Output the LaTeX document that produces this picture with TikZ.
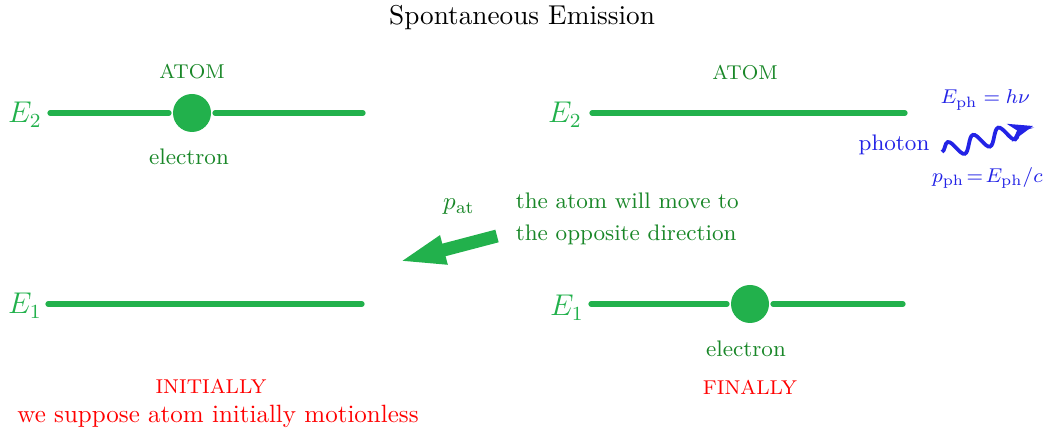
\documentclass[tikz,border=0pt]{standalone}
\usepackage{amsmath,amssymb}
\usepackage{xcolor}
\usetikzlibrary{arrows.meta, positioning, decorations.pathmorphing, calc}
\definecolor{lvlgreen}{RGB}{34,177,76}
\definecolor{txtgreen}{RGB}{25,135,40}
\definecolor{phblue}{RGB}{35,35,230}
\begin{document}
\begin{tikzpicture}[x=0.4pt, y=-0.4pt, >=Stealth, font=\normalsize,
    level/.style={line width=2.1pt, lvlgreen, line cap=round},
    elec/.style={circle, fill=lvlgreen, minimum size=15.2pt, inner sep=0pt, outer sep=1.6pt},
    lvllabel/.style={text=lvlgreen, font=\large},
    greentext/.style={text=txtgreen, font=\small},
    redtext/.style={text=red},
    bluetext/.style={text=phblue, font=\footnotesize, inner sep=0pt}]
  \useasboundingbox (0,0) rectangle (1046,437);
  \node[font=\fontsize{10.9}{13}\selectfont] (title) at (522,18) {Spontaneous Emission};
  % initial state
  \node[elec] (e-init) at (192,113) {};
  \coordinate (u1-l) at (50,113);
  \coordinate (u1-r) at (363,113);
  \coordinate (d1-l) at (48,304);
  \coordinate (d1-r) at (362,304);
  \draw[level] (u1-l) -- (e-init);
  \draw[level] (e-init) -- (u1-r);
  \draw[level] (d1-l) -- (d1-r);
  \node[lvllabel] (E2-init) at (25,115) {$E_2$};
  \node[lvllabel] (E1-init) at (25,306) {$E_1$};
  \node[greentext, font=\footnotesize] (atom-init) at (192,72) {ATOM};
  \node[greentext] (elabel-init) at (189,157) {electron};
  \node[redtext, font=\footnotesize] (initially) at (211,386) {INITIALLY};
  \node[redtext] (motionless) at (218,416) {we suppose atom initially motionless};
  % recoil of the atom
  \coordinate (push-a) at (497,236);
  \coordinate (push-b) at (398,262);
  \draw[lvlgreen, line width=5.2pt, -{Triangle[length=19pt, width=10.5pt]}] (push-a) -- (push-b);
  \node[text=txtgreen] (p-at) at (459,207) {$p_{\mathrm{at}}$};
  \node[greentext, anchor=west, align=left] (move-note) at (507,219)
    {the atom will move to\\[1.6pt]the opposite direction};
  % final state
  \node[elec] (e-final) at (750,304) {};
  \coordinate (u2-l) at (592,113);
  \coordinate (u2-r) at (905,113);
  \coordinate (d2-l) at (591,304);
  \coordinate (d2-r) at (903,304);
  \draw[level] (u2-l) -- (u2-r);
  \draw[level] (d2-l) -- (e-final);
  \draw[level] (e-final) -- (d2-r);
  \node[lvllabel] (E2-final) at (565,115) {$E_2$};
  \node[lvllabel] (E1-final) at (567,308) {$E_1$};
  \node[greentext, font=\footnotesize] (atom-final) at (745,73) {ATOM};
  \node[greentext] (elabel-final) at (746,349) {electron};
  \node[redtext, font=\footnotesize] (finally) at (750,387) {FINALLY};
  % emitted photon
  \coordinate (wave-a) at (942,152);
  \coordinate (wave-b) at (1033,126);
  \draw[phblue, line width=1.5pt, ->, decorate,
    decoration={snake, amplitude=3.2pt, segment length=10.5pt, post length=5pt}] (wave-a) -- (wave-b);
  \node[bluetext, font=\small, inner sep=.3333em] (photon) at (894,145) {photon};
  \node[bluetext, anchor=west] (E-ph) at (940,100) {$E_{\mathrm{ph}} = h\nu$};
  \node[bluetext, anchor=east] (p-ph) at (1043,178) {$p_{\mathrm{ph}}\!=\!E_{\mathrm{ph}}/c$};
\end{tikzpicture}
\end{document}
